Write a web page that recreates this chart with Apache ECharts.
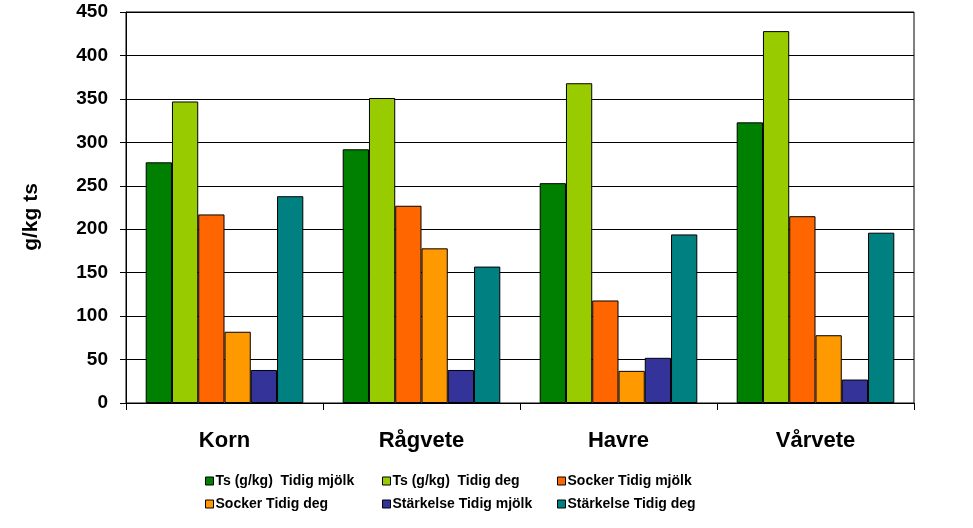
<!DOCTYPE html>
<html><head><meta charset="utf-8">
<script src="https://cdn.jsdelivr.net/npm/echarts@6/dist/echarts.min.js"></script>
<style>html,body{margin:0;padding:0;background:#fff}#c{width:973px;height:528px}</style>
</head><body><div id="c"></div>
<script>
const categories = ['Korn', 'Rågvete', 'Havre', 'Vårvete'];
const seriesNames = ['Ts (g/kg)  Tidig mjölk', 'Ts (g/kg)  Tidig deg', 'Socker Tidig mjölk', 'Socker Tidig deg', 'Stärkelse Tidig mjölk', 'Stärkelse Tidig deg'];
const tsMjolk = [277, 292, 253, 323];
const tsDeg = [347, 351, 368, 428];
const sockerMjolk = [217, 227, 118, 215];
const sockerDeg = [82, 178, 37, 78];
const starkelseMjolk = [38, 38, 52, 27];
const starkelseDeg = [238, 157, 194, 196];
const colors = ['#008000', '#99CC00', '#FF6600', '#FF9900', '#333399', '#008080'];
const yTicks = [0, 50, 100, 150, 200, 250, 300, 350, 400, 450];
const yTitle = 'g/kg ts';

const values = [tsMjolk, tsDeg, sockerMjolk, sockerDeg, starkelseMjolk, starkelseDeg];
const font = 'Liberation Sans, Arial, sans-serif';
const legendPos = [[200, 469], [377, 469], [552, 469], [200, 492], [377, 492], [552, 492]];

const chart = echarts.init(document.getElementById('c'), null, {renderer: 'canvas'});
chart.setOption({
  animation: false,
  backgroundColor: '#fff',
  grid: {left: 126, right: 59, top: 12, bottom: 125, show: true, borderColor: '#000', borderWidth: 1, backgroundColor: 'transparent'},
  graphic: [{
    type: 'text', x: 31, y: 217, rotation: Math.PI / 2,
    style: {text: yTitle, fontFamily: font, fontWeight: 'bold', fontSize: 21, fill: '#000', align: 'center', verticalAlign: 'middle'}
  }],
  legend: seriesNames.map((n, i) => ({
    data: [n], left: legendPos[i][0], top: legendPos[i][1], itemWidth: 8, itemHeight: 8, itemGap: 5,
    icon: 'rect', selectedMode: false,
    itemStyle: {borderColor: '#000', borderWidth: 1},
    textStyle: {fontFamily: font, fontWeight: 'bold', fontSize: 14, color: '#000', padding: [0, 0, 0, -3]}
  })),
  xAxis: {
    type: 'category', data: categories,
    axisLine: {lineStyle: {color: '#000', width: 1}},
    axisTick: {show: true, alignWithLabel: false, length: 7, lineStyle: {color: '#000'}},
    axisLabel: {fontFamily: font, fontWeight: 'bold', fontSize: 22, color: '#000', margin: 27}
  },
  yAxis: {
    type: 'value', min: 0, max: 450, interval: 50,
    axisLine: {show: true, lineStyle: {color: '#000', width: 1}},
    axisTick: {show: true, length: 6, lineStyle: {color: '#000'}},
    splitLine: {show: true, lineStyle: {color: '#000', width: 1}},
    axisLabel: {fontFamily: font, fontWeight: 'bold', fontSize: 19, color: '#000', margin: 18,
      formatter: v => yTicks.includes(v) ? String(v) : ''}
  },
  series: seriesNames.map((n, i) => ({
    name: n, type: 'bar', data: values[i], barGap: '0%', barCategoryGap: '20%',
    itemStyle: {color: colors[i], borderColor: '#000', borderWidth: 1}
  }))
});
</script></body></html>
